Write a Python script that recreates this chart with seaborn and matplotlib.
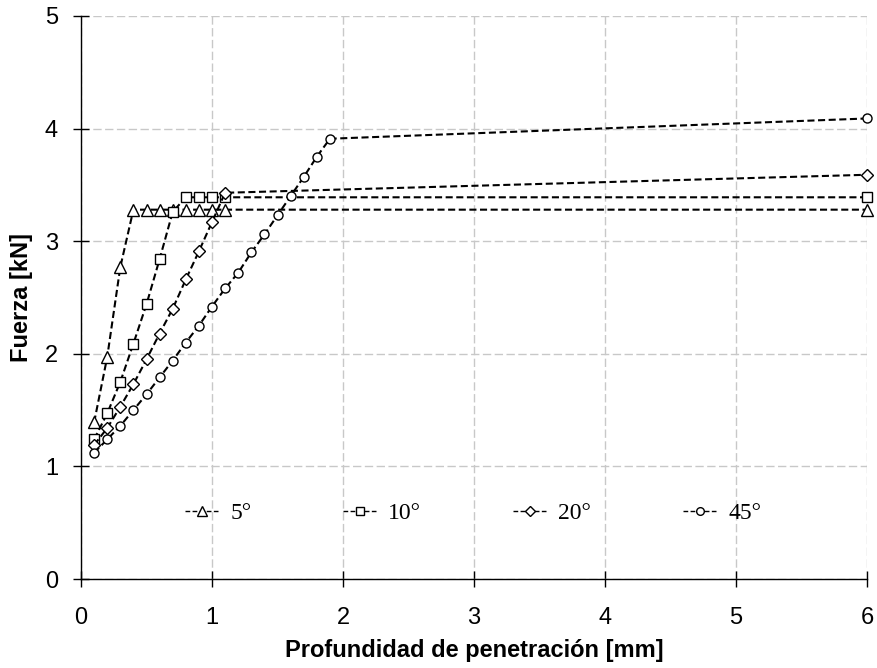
import matplotlib
matplotlib.use("Agg")
import matplotlib.pyplot as plt
import seaborn as sns
import pandas as pd

# ---- data ----
x_5 = [0.1, 0.2, 0.3, 0.4, 0.5, 0.6, 0.7, 0.8, 0.9, 1.0, 1.1, 6.0]
y_5 = [1.39, 1.97, 2.77, 3.28, 3.28, 3.28, 3.28, 3.28, 3.28, 3.28, 3.28, 3.28]

x_10 = [0.1, 0.2, 0.3, 0.4, 0.5, 0.6, 0.7, 0.8, 0.9, 1.0, 1.1, 6.0]
y_10 = [1.24, 1.47, 1.75, 2.09, 2.44, 2.84, 3.26, 3.39, 3.39, 3.39, 3.39, 3.39]

x_20 = [0.1, 0.2, 0.3, 0.4, 0.5, 0.6, 0.7, 0.8, 0.9, 1.0, 1.1, 6.0]
y_20 = [1.19, 1.34, 1.53, 1.73, 1.95, 2.18, 2.40, 2.66, 2.91, 3.17, 3.43, 3.59]

x_45 = [0.1, 0.2, 0.3, 0.4, 0.5, 0.6, 0.7, 0.8, 0.9, 1.0, 1.1, 1.2, 1.3,
        1.4, 1.5, 1.6, 1.7, 1.8, 1.9, 6.0]
y_45 = [1.12, 1.24, 1.36, 1.50, 1.64, 1.79, 1.94, 2.10, 2.25, 2.42, 2.58,
        2.72, 2.90, 3.06, 3.23, 3.40, 3.57, 3.75, 3.91, 4.09]

labels = ["5°", "10°", "20°", "45°"]
series_x = [x_5, x_10, x_20, x_45]
series_y = [y_5, y_10, y_20, y_45]
markers = ["^", "s", "D", "o"]
msizes = [8.5, 6.5, 6.0, 6.5]

xticks = [0, 1, 2, 3, 4, 5, 6]
yticks = [0, 1, 2, 3, 4, 5]

sns.set_theme(style="white")
plt.rcParams["font.family"] = ["Liberation Sans", "DejaVu Sans"]
plt.rcParams["text.color"] = "black"

fig = plt.figure(figsize=(8.77, 6.68), dpi=100)
ax = fig.add_axes([81 / 877, 89 / 668, 786 / 877, 563 / 668])

for xs, ys, lab, m, ms in zip(series_x, series_y, labels, markers, msizes):
    df = pd.DataFrame({"x": xs, "y": ys})
    sns.lineplot(data=df, x="x", y="y", ax=ax, color="black",
                 linestyle=(0, (3.4, 1.7)), linewidth=1.5,
                 marker=m, markersize=ms, markerfacecolor="white",
                 markeredgecolor="black", markeredgewidth=1.0, label=lab,
                 clip_on=False, zorder=3)

ax.set_xlim(0, 6)
ax.set_ylim(0, 5)
ax.set_xticks(xticks)
ax.set_yticks(yticks)
ax.grid(True, color="#c8c8c8", linestyle=(0, (6, 2.5)), linewidth=1.0, zorder=0)
ax.set_axisbelow(True)
for s in ["top", "right"]:
    ax.spines[s].set_visible(False)
for s in ["left", "bottom"]:
    ax.spines[s].set_color("black")
    ax.spines[s].set_linewidth(1.0)
ax.tick_params(axis="both", bottom=True, left=True, direction="inout", length=11,
               width=1.0, color="black", labelsize=17, labelcolor="black")
ax.tick_params(axis="x", pad=15)
ax.tick_params(axis="y", pad=11)

ax.set_xlabel("Profundidad de penetración [mm]", fontsize=17, fontweight="bold",
              color="black")
ax.set_ylabel("Fuerza [kN]", fontsize=17, fontweight="bold", color="black")
ax.xaxis.set_label_coords(0.5, -0.1057)
ax.yaxis.set_label_coords(-0.061, 0.5)

leg = ax.legend(loc="center", bbox_to_anchor=(0.499, 0.117), ncol=4, frameon=False,
                prop={"family": "Liberation Serif", "size": 17},
                handlelength=1.4, handletextpad=0.5, columnspacing=3.9)
for t in leg.get_texts():
    t.set_color("black")
for h, ms in zip(leg.legend_handles, msizes):
    h.set_markersize(ms * 0.85)
    h.set_linewidth(1.0)

fig.savefig("out.png", dpi=100)
